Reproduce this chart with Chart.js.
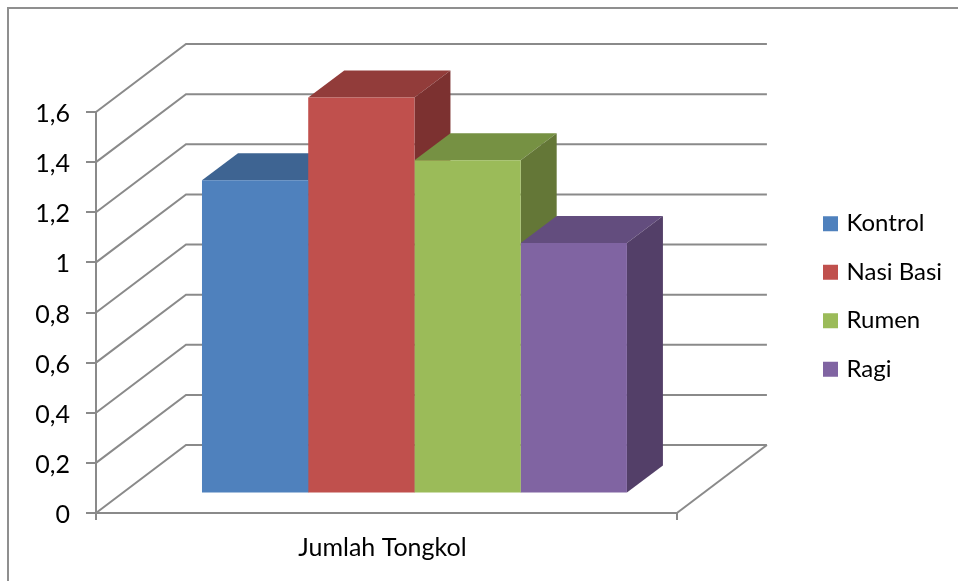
<!DOCTYPE html>
<html>
<head>
<meta charset="utf-8">
<title>Jumlah Tongkol</title>
<script src="https://cdn.jsdelivr.net/npm/chart.js@4"></script>
<style>
  html, body { margin: 0; padding: 0; background: #fff; }
  canvas { display: block; }
</style>
</head>
<body>
<canvas id="barChart" width="958" height="581"></canvas>
<script>
// ---------- DATA ----------
const categories = ["Jumlah Tongkol"];
const seriesNames = ["Kontrol", "Nasi Basi", "Rumen", "Ragi"];
const kontrol = [1.25];
const nasiBasi = [1.58];
const rumen = [1.33];
const ragi = [1.0];
const yTickLabels = ["0", "0,2", "0,4", "0,6", "0,8", "1", "1,2", "1,4", "1,6"];

// ---------- COLORS ----------
const frontColors = ["#4f81bd", "#c0504d", "#9bbb59", "#8064a2"];
const topColors = ["#3e6492", "#923c3a", "#769143", "#634d7e"];
const sideColors = ["#335279", "#7c3130", "#647737", "#533f68"];
const lineColor = "#8a8a8a";
const labelFont = { family: "Lato", size: 25 };

// ---------- 3D SETTINGS ----------
const wall = { dx: 90, dy: -68 };        // back wall offset from the axes
const barShift = { dx: 28, dy: -19.5 };  // bars stand a little inside the floor
const barDepth = { dx: 36, dy: -27 };

function polygon(ctx, color, points) {
  ctx.fillStyle = color;
  ctx.beginPath();
  points.forEach((p, i) => (i ? ctx.lineTo(p[0], p[1]) : ctx.moveTo(p[0], p[1])));
  ctx.closePath();
  ctx.fill();
}

const box3d = {
  id: "box3d",
  afterLayout(chart) {
    // legend sits higher than the middle of the plot
    const legend = chart.legend;
    const shift = -50;
    legend.top += shift;
    legend.bottom += shift;
    legend.left = 802;
    legend.right = chart.width;
  },
  beforeDraw(chart) {
    // outer frame, runs off the right and bottom edge
    const ctx = chart.ctx;
    ctx.save();
    ctx.strokeStyle = "#8f8f8f";
    ctx.lineWidth = 2;
    ctx.beginPath();
    ctx.moveTo(8, chart.height);
    ctx.lineTo(8, 8);
    ctx.lineTo(chart.width, 8);
    ctx.stroke();
    ctx.restore();
  },
  beforeDatasetsDraw(chart) {
    const ctx = chart.ctx;
    const { left, right } = chart.chartArea;
    const yScale = chart.scales.y;

    ctx.save();
    ctx.strokeStyle = lineColor;
    ctx.lineWidth = 2;
    yScale.ticks.forEach((t) => {
      const y = yScale.getPixelForValue(t.value);
      ctx.beginPath();
      ctx.moveTo(left, y);
      ctx.lineTo(left + wall.dx, y + wall.dy);
      ctx.lineTo(right + wall.dx, y + wall.dy);
      ctx.stroke();
    });
    // floor edge on the right
    const y0 = yScale.getPixelForValue(0);
    ctx.beginPath();
    ctx.moveTo(right, y0);
    ctx.lineTo(right + wall.dx, y0 + wall.dy);
    ctx.stroke();
    ctx.restore();

    // all bars move back from the axis plane
    ctx.save();
    ctx.translate(barShift.dx, barShift.dy);

    // top and side faces go left to right, the front faces follow on top
    seriesNames.forEach((name, i) => {
      chart.getDatasetMeta(i).data.forEach((bar) => {
        const { x, y, base, width } = bar.getProps(["x", "y", "base", "width"]);
        const l = x - width / 2;
        const r = x + width / 2;
        const dx = barDepth.dx;
        const dy = barDepth.dy;
        polygon(ctx, topColors[i], [[l, y], [l + dx, y + dy], [r + dx, y + dy], [r, y]]);
        polygon(ctx, sideColors[i], [[r, y], [r + dx, y + dy], [r + dx, base + dy], [r, base]]);
      });
    });
  },
  afterDatasetsDraw(chart) {
    chart.ctx.restore();
  }
};

// ---------- CHART ----------
const seriesValues = [kontrol, nasiBasi, rumen, ragi];

new Chart(document.getElementById("barChart"), {
  type: "bar",
  plugins: [box3d],
  data: {
    labels: categories,
    datasets: seriesNames.map((name, i) => ({
      label: name,
      data: seriesValues[i],
      backgroundColor: frontColors[i],
      borderWidth: 0,
      clip: false
    }))
  },
  options: {
    responsive: false,
    animation: false,
    barPercentage: 1,
    categoryPercentage: 0.7315,
    layout: { padding: { top: 112, right: 131, bottom: 0, left: 0 } },
    plugins: {
      title: { display: false },
      tooltip: { enabled: false },
      legend: {
        position: "right",
        labels: {
          // small box with a thick stroke keeps the text close to the swatch
          boxWidth: 8,
          boxHeight: 8,
          padding: 24.5,
          color: "#000",
          font: { family: "Lato", size: 24 },
          generateLabels(chart) {
            return Chart.defaults.plugins.legend.labels.generateLabels(chart).map((item, i) => ({
              ...item,
              strokeStyle: frontColors[i],
              lineWidth: 7
            }));
          }
        }
      }
    },
    scales: {
      x: {
        afterFit(scale) { scale.height = 68; },
        border: { color: lineColor, width: 2 },
        grid: { drawOnChartArea: false, color: lineColor, lineWidth: 2, tickLength: 7 },
        ticks: { color: "#000", padding: 13, labelOffset: -4, font: labelFont }
      },
      y: {
        min: 0,
        max: 1.6,
        afterFit(scale) { scale.width = 96; },
        border: { color: lineColor, width: 2 },
        grid: { drawOnChartArea: false, color: lineColor, lineWidth: 2, tickLength: 10 },
        ticks: {
          stepSize: 0.2,
          color: "#000",
          padding: 16,
          labelOffset: 2,
          font: labelFont,
          callback: (value, index) => yTickLabels[index]
        }
      }
    }
  }
});
</script>
</body>
</html>
